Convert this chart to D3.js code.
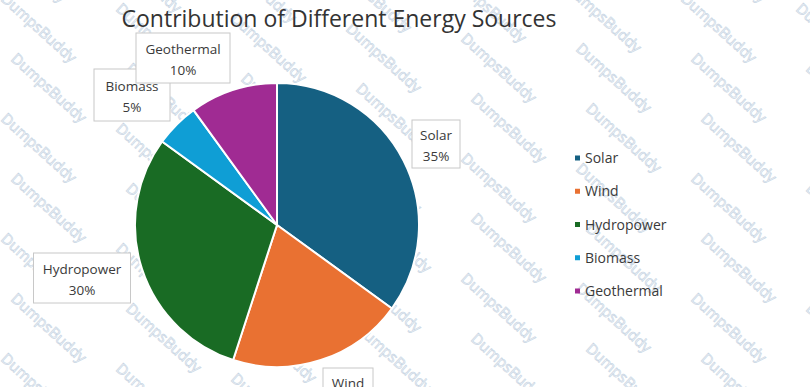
<!DOCTYPE html>
<html>
<head>
<meta charset="utf-8">
<script src="https://cdn.jsdelivr.net/npm/d3@7"></script>
<style>
  body { margin: 0; background: #fff; }
  svg { display: block; font-family: "Open Sans", "Liberation Sans", sans-serif; }
  .title { font-size: 23px; fill: #333; }
  .lbl { font-size: 13.5px; fill: #3a3a3a; }
  .leg { font-size: 14px; fill: #3a3a3a; }
  .wm { font-size: 15px; fill: none; stroke: #c9d6e4; stroke-width: 0.7; }
</style>
</head>
<body>
<svg width="810" height="387"></svg>
<script>
const svg = d3.select('svg');
const width = +svg.attr('width');
const height = +svg.attr('height');

// data
const sources = ['Solar', 'Wind', 'Hydropower', 'Biomass', 'Geothermal'];
const shares = [35, 20, 30, 5, 10];
const colors = ['#156082', '#e97132', '#196b24', '#0f9ed5', '#a02b93'];

const data = sources.map((s, i) => ({ name: s, value: shares[i] }));

// watermark grid in the background
const wm = svg.append('g');
for (let row = -3; row < 9; row++) {
  for (let col = -2; col < 9; col++) {
    const x = col * 115 + (row % 2) * 10;
    const y = row * 60 + col * 10;
    wm.append('text')
      .attr('class', 'wm')
      .attr('transform', `translate(${x},${y}) rotate(42)`)
      .text('DumpsBuddy');
  }
}

svg.append('text')
  .attr('class', 'title')
  .attr('x', 339)
  .attr('y', 27)
  .attr('text-anchor', 'middle')
  .text('Contribution of Different Energy Sources');

const cx = 277, cy = 225, radius = 142;

const color = d3.scaleOrdinal().domain(sources).range(colors);

const pie = d3.pie().value(d => d.value).sort(null);
const arc = d3.arc().innerRadius(0).outerRadius(radius);

const g = svg.append('g').attr('transform', `translate(${cx},${cy})`);

g.selectAll('path')
  .data(pie(data))
  .enter()
  .append('path')
  .attr('d', arc)
  .attr('fill', d => color(d.data.name))
  .attr('stroke', '#fff')
  .attr('stroke-width', 2);

// callout labels (box centre positions)
const boxes = {
  Solar: { x: 436, y: 144, w: 48, h: 48 },
  Wind: { x: 348, y: 392, w: 50, h: 48 },
  Hydropower: { x: 82, y: 278, w: 97, h: 50 },
  Biomass: { x: 132, y: 95, w: 76, h: 52 },
  Geothermal: { x: 183, y: 58, w: 94, h: 50 }
};

const lab = svg.append('g');
data.forEach(d => {
  const b = boxes[d.name];
  const pct = Math.round(d.value / d3.sum(shares) * 100) + '%';
  lab.append('rect')
    .attr('x', b.x - b.w / 2)
    .attr('y', b.y - b.h / 2)
    .attr('width', b.w)
    .attr('height', b.h)
    .attr('fill', '#fff')
    .attr('stroke', '#c8c8c8')
    .attr('stroke-width', 1);
  lab.append('text')
    .attr('class', 'lbl')
    .attr('x', b.x)
    .attr('y', b.y - 4)
    .attr('text-anchor', 'middle')
    .text(d.name);
  lab.append('text')
    .attr('class', 'lbl')
    .attr('x', b.x)
    .attr('y', b.y + 17)
    .attr('text-anchor', 'middle')
    .text(pct);
});

// legend
const ly = d3.scalePoint().domain(sources).range([158, 291]);
const leg = svg.append('g');
leg.selectAll('rect')
  .data(sources)
  .enter()
  .append('rect')
  .attr('x', 575)
  .attr('y', d => ly(d) - 2.5)
  .attr('width', 5)
  .attr('height', 5)
  .attr('fill', d => color(d));
leg.selectAll('text')
  .data(sources)
  .enter()
  .append('text')
  .attr('class', 'leg')
  .attr('x', 585)
  .attr('y', d => ly(d) + 5)
  .text(d => d);
</script>
</body>
</html>
